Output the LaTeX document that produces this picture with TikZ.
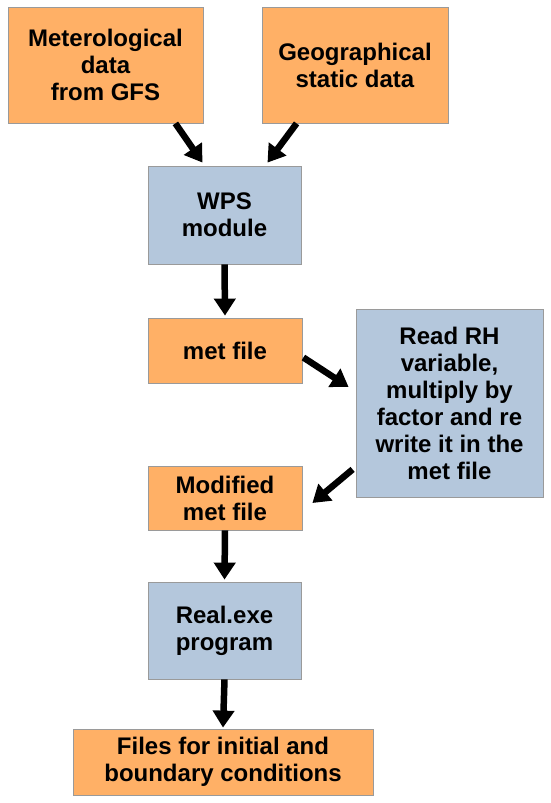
\documentclass[tikz,border=0pt]{standalone}
\usepackage{fontspec}
\setmainfont{Liberation Sans}
\usetikzlibrary{arrows.meta}
\definecolor{boxorange}{HTML}{FFB066}
\definecolor{boxblue}{HTML}{B4C7DC}
\definecolor{boxline}{HTML}{9A9A9A}

\begin{document}
\begin{tikzpicture}[x=1pt, y=-1pt,
	box/.style={draw=boxline, line width=0.8pt, align=center, inner sep=0pt,
		font=\fontsize{24}{27}\selectfont\bfseries},
	obox/.style={box, fill=boxorange},
	bbox/.style={box, fill=boxblue},
	flow/.style={line width=6.5pt, -{Triangle[length=17pt, width=21pt]}}] % {{{
\useasboundingbox (0,0) rectangle (550,803);
% input data
\node[obox, minimum width=195pt, minimum height=116pt] (gfs) at (105.5,65) {Meterological\\data\\from GFS};
\node[obox, minimum width=186pt, minimum height=116pt] (geo) at (355,65) {Geographical\\static data};
% processing chain
\node[bbox, minimum width=153pt, minimum height=98pt] (wps) at (224.5,215) {WPS\\module};
\node[obox, minimum width=154pt, minimum height=65pt] (met) at (225,350.5) {met file};
\node[bbox, minimum width=187pt, minimum height=188pt] (rh) at (449.5,403) {Read RH\\variable,\\multiply by\\factor and re\\write it in the\\met file};
\node[obox, minimum width=154pt, minimum height=64pt] (mod) at (225,498) {Modified\\met file};
\node[bbox, minimum width=153pt, minimum height=97pt] (real) at (224.5,630.5) {Real.exe\\program};
\node[obox, minimum width=300pt, minimum height=66pt] (files) at (223,762) {Files for initial and\\boundary conditions};
% arrows
\draw[flow] ([xshift=-28pt]gfs.south east) -- ([xshift=-22pt, yshift=3pt]wps.north);
\draw[flow] ([xshift=35pt]geo.south west) -- ([xshift=43pt, yshift=3pt]wps.north);
\draw[flow] (wps.south) -- ([yshift=2pt]met.north);
\draw[flow] ([xshift=1pt, yshift=-7pt]met.east) -- ([xshift=-7pt, yshift=16pt]rh.west);
\draw[flow] ([xshift=-3pt, yshift=28pt]rh.south west) -- ([xshift=10pt, yshift=-5pt]mod.east);
\draw[flow] (mod.south) -- ([yshift=2pt]real.north);
\draw[flow] (real.south) -- ([yshift=1pt]files.north);
\end{tikzpicture}
\end{document}
